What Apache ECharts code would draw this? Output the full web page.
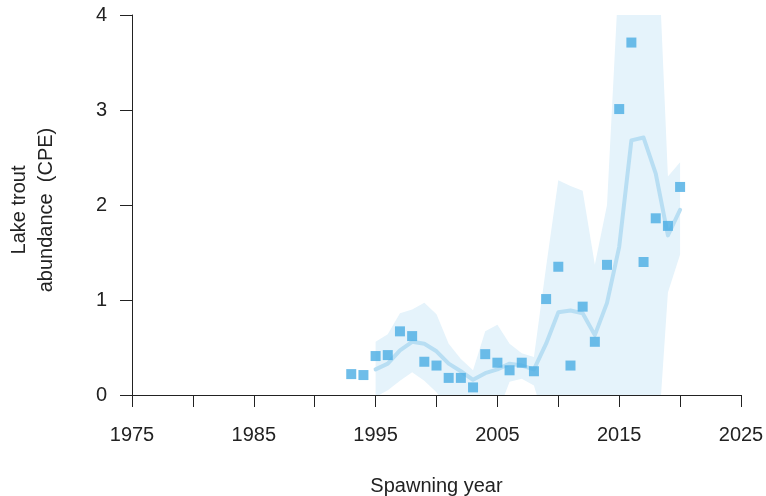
<!DOCTYPE html>
<html>
<head>
<meta charset="utf-8">
<script src="https://cdn.jsdelivr.net/npm/echarts@6/dist/echarts.min.js"></script>
<style>
  html, body { margin: 0; padding: 0; background: #fff; }
  #chart { width: 766px; height: 496px; }
</style>
</head>
<body>
<div id="chart"></div>
<script>
// Observed catch-per-effort by spawning year
const obsYears = [1993, 1994, 1995, 1996, 1997, 1998, 1999, 2000, 2001, 2002, 2003, 2004, 2005, 2006,
                  2007, 2008, 2009, 2010, 2011, 2012, 2013, 2014, 2015, 2016, 2017, 2018, 2019, 2020];
const obsCPE = [0.22, 0.21, 0.41, 0.42, 0.67, 0.62, 0.35, 0.31, 0.18, 0.18, 0.08, 0.43, 0.34, 0.26,
                0.34, 0.25, 1.01, 1.35, 0.31, 0.93, 0.56, 1.37, 3.01, 3.71, 1.40, 1.86, 1.78, 2.19];

// Smoothed trend with its uncertainty band
const trendYears = [1995, 1996, 1997, 1998, 1999, 2000, 2001, 2002, 2003, 2004, 2005, 2006, 2007,
                    2008, 2009, 2010, 2011, 2012, 2013, 2014, 2015, 2016, 2017, 2018, 2019, 2020];
const trendFit = [0.27, 0.33, 0.47, 0.56, 0.54, 0.46, 0.33, 0.25, 0.16, 0.23, 0.27, 0.33, 0.31,
                  0.27, 0.54, 0.87, 0.89, 0.86, 0.63, 0.97, 1.56, 2.68, 2.71, 2.33, 1.68, 1.95];
const bandLower = [-0.02, 0.05, 0.15, 0.24, 0.15, 0.03, -0.15, -0.20, -0.20, -0.15, -0.20, 0.14, 0.17,
                   0.10, -0.33, -0.80, -0.80, -0.80, -0.80, -0.80, -1.00, -1.20, -1.30, -0.83, 1.08, 1.48];
const bandUpper = [0.56, 0.64, 0.86, 0.90, 0.97, 0.85, 0.54, 0.38, 0.26, 0.67, 0.74, 0.54, 0.44,
                   0.40, 1.35, 2.26, 2.20, 2.15, 1.37, 2.00, 4.50, 6.00, 6.00, 5.30, 2.30, 2.45];

// Axis ticks
const xTicks = { min: 1975, max: 2025, step: 5 };
const xTickLabels = [1975, 1985, 1995, 2005, 2015, 2025];
const yTicks = { min: 0, max: 4, step: 1 };

const font = '"Liberation Sans", Arial, sans-serif';
const axisColor = '#222';

const pairs = (xs, ys) => xs.map((x, i) => [x, ys[i]]);

// The band is one polygon: upper edge left to right, lower edge right to left,
// clipped to the plotting area.
function renderBand(params, api) {
  if (params.dataIndex !== 0) return null;
  const pts = [];
  for (let i = 0; i < trendYears.length; i++) pts.push(api.coord([trendYears[i], bandUpper[i]]));
  for (let i = trendYears.length - 1; i >= 0; i--) pts.push(api.coord([trendYears[i], bandLower[i]]));
  const cs = params.coordSys;
  return {
    type: 'group',
    clipPath: { type: 'rect', shape: { x: cs.x, y: cs.y, width: cs.width, height: cs.height } },
    children: [{
      type: 'polygon',
      shape: { points: pts },
      style: { fill: '#e5f3fb', stroke: null },
      silent: true
    }]
  };
}

const chart = echarts.init(document.getElementById('chart'), null, { renderer: 'canvas' });

chart.setOption({
  animation: false,
  backgroundColor: '#fff',
  grid: { left: 132, right: 25, top: 15, bottom: 101, containLabel: false, outerBoundsMode: 'none' },
  xAxis: {
    type: 'value',
    min: xTicks.min, max: xTicks.max, interval: xTicks.step,
    name: 'Spawning year',
    nameLocation: 'middle',
    nameGap: 81,
    nameTextStyle: { fontFamily: font, fontSize: 20, color: axisColor },
    axisLine: { show: true, lineStyle: { color: axisColor, width: 1 } },
    axisTick: { show: true, length: 12, lineStyle: { color: axisColor, width: 1 } },
    axisLabel: {
      margin: 30, fontFamily: font, fontSize: 20, color: axisColor,
      formatter: v => (xTickLabels.includes(v) ? String(v) : '')
    },
    splitLine: { show: false }
  },
  yAxis: {
    type: 'value',
    min: yTicks.min, max: yTicks.max, interval: yTicks.step,
    name: 'Lake trout\nabundance  (CPE)',
    nameLocation: 'middle',
    nameGap: 72,
    nameRotate: 90,
    nameTextStyle: {
      fontFamily: font, fontSize: 20, color: axisColor, lineHeight: 27, align: 'center',
      padding: [0, 10, 0, 0]
    },
    axisLine: { show: true, lineStyle: { color: axisColor, width: 1 } },
    axisTick: { show: true, length: 12, lineStyle: { color: axisColor, width: 1 } },
    axisLabel: { margin: 25, fontFamily: font, fontSize: 20, color: axisColor },
    splitLine: { show: false }
  },
  series: [
    {
      name: 'band',
      type: 'custom',
      renderItem: renderBand,
      data: pairs(trendYears, trendFit),
      encode: { x: 0, y: 1 },
      silent: true,
      z: 1
    },
    {
      name: 'trend',
      type: 'line',
      data: pairs(trendYears, trendFit),
      showSymbol: false,
      symbol: 'none',
      lineStyle: { color: '#b8def3', width: 4, join: 'round', cap: 'round' },
      z: 2
    },
    {
      name: 'observed',
      type: 'scatter',
      data: pairs(obsYears, obsCPE),
      symbol: 'rect',
      symbolSize: 10,
      itemStyle: { color: '#4aace4' },
      z: 3
    }
  ]
});
</script>
</body>
</html>
